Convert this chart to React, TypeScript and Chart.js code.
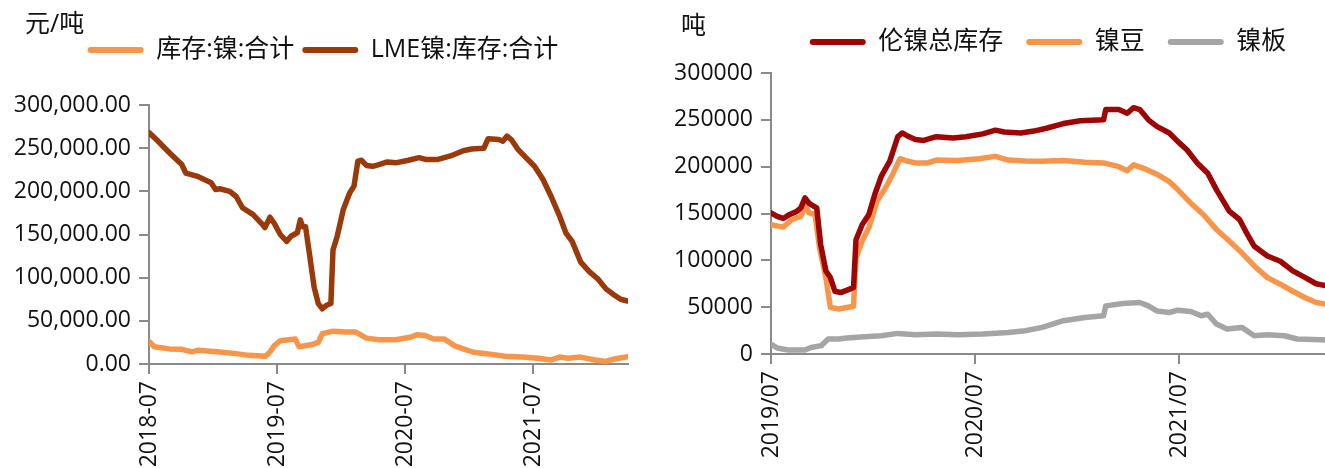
import React, { useEffect, useRef } from 'react';
import { Chart, registerables } from 'chart.js';

Chart.register(...registerables);

const FONT = "'Open Sans', 'Noto Sans CJK SC', sans-serif";
const AXIS = '#8a8a8a';
const TEXT = '#111111';

// ---------- Left chart data ----------
const leftUnit = '元/吨';
const leftTickLabels = ['2018-07', '2019-07', '2020-07', '2021-07'];
const leftRange = ['2018-07-01', '2022-03-27'];

const stockName = '库存:镍:合计';
const stockDates = ['2018-07-01', '2018-07-16', '2018-08-28', '2018-10-03', '2018-11-02', '2018-11-20', '2019-01-20', '2019-03-06', '2019-04-12', '2019-05-29', '2019-06-11', '2019-06-23', '2019-07-10', '2019-08-22', '2019-09-03', '2019-10-09', '2019-10-27', '2019-11-08', '2019-12-08', '2020-01-13', '2020-02-12', '2020-03-12', '2020-04-17', '2020-06-04', '2020-07-16', '2020-08-04', '2020-08-28', '2020-09-21', '2020-10-21', '2020-11-20', '2020-12-14', '2021-01-13', '2021-02-24', '2021-04-11', '2021-05-29', '2021-07-16', '2021-08-21', '2021-09-15', '2021-10-08', '2021-11-14', '2021-12-20', '2022-01-25', '2022-02-18', '2022-03-26'];
const stockValues = [26000, 20000, 17500, 17000, 14000, 16000, 14000, 12000, 10000, 9000, 14000, 21000, 27000, 29000, 20000, 22500, 25000, 35000, 38000, 37000, 37000, 30000, 28000, 28000, 31000, 34000, 33000, 29000, 29000, 21000, 17500, 13600, 11700, 9000, 8000, 6600, 4700, 8000, 6600, 8000, 5000, 3000, 5800, 8500];

const lmeName = 'LME镍:库存:合计';
const lmeDates = ['2018-07-01', '2018-07-22', '2018-08-28', '2018-10-03', '2018-10-15', '2018-11-20', '2018-12-26', '2019-01-08', '2019-01-20', '2019-02-18', '2019-03-06', '2019-03-24', '2019-04-24', '2019-05-17', '2019-05-27', '2019-06-11', '2019-06-23', '2019-07-10', '2019-07-28', '2019-08-10', '2019-08-28', '2019-09-06', '2019-09-13', '2019-09-21', '2019-10-03', '2019-10-15', '2019-10-27', '2019-11-08', '2019-11-20', '2019-12-02', '2019-12-08', '2019-12-20', '2020-01-07', '2020-01-25', '2020-02-07', '2020-02-18', '2020-02-28', '2020-03-12', '2020-03-30', '2020-04-17', '2020-05-11', '2020-06-04', '2020-07-10', '2020-08-10', '2020-08-28', '2020-10-03', '2020-11-08', '2020-12-14', '2021-01-07', '2021-02-12', '2021-02-24', '2021-03-24', '2021-04-05', '2021-04-17', '2021-04-29', '2021-05-17', '2021-06-10', '2021-07-04', '2021-07-28', '2021-08-21', '2021-09-15', '2021-10-02', '2021-10-20', '2021-11-14', '2021-12-08', '2022-01-01', '2022-01-25', '2022-02-18', '2022-03-06', '2022-03-26'];
const lmeValues = [268000, 260000, 245000, 231000, 221000, 217000, 210000, 202000, 203000, 200000, 194000, 181000, 173000, 163000, 158000, 170000, 163000, 150000, 142000, 148000, 152000, 167000, 159000, 159000, 124000, 89000, 70000, 64000, 68000, 70000, 132000, 148000, 179000, 198000, 206000, 235000, 236000, 230000, 229000, 231000, 234000, 233000, 236000, 239000, 237000, 237000, 241000, 247000, 249000, 250000, 261000, 260000, 258000, 264000, 260000, 249000, 239000, 229000, 214000, 194000, 171000, 152000, 142000, 118000, 107000, 99000, 87000, 80000, 75000, 73000];

// ---------- Right chart data ----------
const rightUnit = '吨';
const rightTickLabels = ['2019/07', '2020/07', '2021/07'];
const rightRange = ['2019-07-01', '2022-09-17'];

const totalName = '伦镍总库存';
const totalDates = ['2019-07-01', '2019-07-12', '2019-07-23', '2019-08-04', '2019-08-16', '2019-08-24', '2019-09-01', '2019-09-08', '2019-09-16', '2019-09-22', '2019-09-29', '2019-10-08', '2019-10-16', '2019-10-24', '2019-11-04', '2019-11-19', '2019-11-27', '2019-12-01', '2019-12-12', '2019-12-24', '2020-01-04', '2020-01-16', '2020-01-31', '2020-02-15', '2020-02-23', '2020-03-01', '2020-03-16', '2020-03-31', '2020-04-23', '2020-05-23', '2020-06-15', '2020-07-15', '2020-08-07', '2020-08-23', '2020-09-22', '2020-10-15', '2020-11-07', '2020-12-07', '2021-01-07', '2021-02-18', '2021-02-22', '2021-03-15', '2021-03-30', '2021-04-11', '2021-04-22', '2021-05-07', '2021-05-22', '2021-06-14', '2021-06-29', '2021-07-15', '2021-08-03', '2021-08-22', '2021-09-07', '2021-09-30', '2021-10-18', '2021-10-29', '2021-11-14', '2021-12-07', '2021-12-30', '2022-01-22', '2022-02-14', '2022-03-03', '2022-03-24'];
const totalValues = [150700, 147000, 144700, 149000, 152000, 156000, 166700, 161000, 158000, 156000, 117000, 88600, 81600, 67000, 65600, 69000, 71000, 122000, 138000, 149000, 170000, 190000, 206000, 232000, 236000, 233000, 229000, 228000, 232000, 230500, 232000, 235000, 239000, 237000, 236000, 238000, 241000, 246000, 249000, 250000, 261000, 261000, 257000, 263000, 261000, 250000, 243000, 236000, 227000, 218000, 204000, 193000, 175500, 152500, 143600, 131000, 115000, 104600, 99000, 88700, 81600, 75000, 72500];

const beanName = '镍豆';
const beanDates = ['2019-07-01', '2019-07-23', '2019-08-08', '2019-08-24', '2019-09-02', '2019-09-08', '2019-09-19', '2019-09-27', '2019-10-08', '2019-10-16', '2019-10-31', '2019-11-15', '2019-11-27', '2019-12-01', '2019-12-12', '2019-12-24', '2020-01-08', '2020-01-23', '2020-02-04', '2020-02-19', '2020-03-01', '2020-03-16', '2020-04-08', '2020-04-23', '2020-06-01', '2020-07-08', '2020-08-07', '2020-08-30', '2020-09-30', '2020-10-30', '2020-12-07', '2021-01-15', '2021-02-18', '2021-03-15', '2021-03-30', '2021-04-11', '2021-04-30', '2021-05-22', '2021-06-14', '2021-06-29', '2021-07-22', '2021-08-14', '2021-09-07', '2021-09-30', '2021-10-22', '2021-11-14', '2021-12-07', '2021-12-30', '2022-01-22', '2022-02-14', '2022-03-03', '2022-03-24'];
const beanValues = [138000, 135500, 143600, 147000, 159000, 150700, 149000, 113500, 81600, 49600, 48000, 49600, 51000, 102800, 120600, 134700, 163000, 177000, 189700, 208500, 206000, 204000, 204000, 207000, 206700, 208500, 211000, 207000, 206000, 205700, 206700, 204600, 204000, 200000, 195700, 202000, 198000, 192000, 184000, 175500, 161000, 149000, 133000, 120600, 108000, 94000, 81600, 74500, 67000, 60000, 55000, 53000];

const plateName = '镍板';
const plateDates = ['2019-07-01', '2019-07-12', '2019-08-01', '2019-09-01', '2019-09-12', '2019-09-30', '2019-10-12', '2019-10-31', '2019-11-15', '2019-12-16', '2020-01-16', '2020-02-15', '2020-03-16', '2020-04-23', '2020-06-01', '2020-07-15', '2020-08-30', '2020-09-30', '2020-10-30', '2020-12-07', '2021-01-15', '2021-02-18', '2021-02-22', '2021-03-22', '2021-04-22', '2021-05-07', '2021-05-22', '2021-06-14', '2021-06-29', '2021-07-22', '2021-08-10', '2021-08-22', '2021-09-07', '2021-09-26', '2021-10-22', '2021-11-14', '2021-12-07', '2022-01-07', '2022-01-30', '2022-03-24'];
const plateValues = [10600, 6400, 4300, 4300, 7000, 8900, 16000, 16000, 17000, 18400, 19500, 22000, 20600, 21300, 20600, 21300, 23000, 24800, 28400, 35500, 39000, 40800, 51400, 53900, 55000, 51400, 46000, 44300, 46800, 45400, 40800, 42500, 32000, 26600, 28400, 19500, 20600, 19500, 16000, 15000];

// ---------- helpers ----------
function monthIndex(s: string): number {
  const p = s.split(/[-/]/).map(Number);
  const y = p[0], m = p[1], d = p[2] || 1;
  return (y - 2000) * 12 + (m - 1) + (d - 1) / 30.44;
}

function toPoints(dates: string[], values: number[]) {
  return dates.map((d, i) => ({ x: monthIndex(d), y: values[i] }));
}

function lineDataset(label: string, dates: string[], values: number[], color: string) {
  return {
    label,
    data: toPoints(dates, values),
    borderColor: color,
    backgroundColor: color,
    borderWidth: 5.5,
    pointRadius: 0,
    tension: 0,
    borderJoinStyle: 'round',
    borderCapStyle: 'round',
  };
}

const unitPlugin = {
  id: 'unitLabel',
  afterDraw(chart: any, _args: any, o: any) {
    const ctx = chart.ctx;
    ctx.save();
    ctx.font = `25px ${FONT}`;
    ctx.fillStyle = TEXT;
    ctx.textAlign = 'left';
    ctx.textBaseline = 'middle';
    ctx.fillText(o.text, o.x, o.y);
    ctx.restore();
  },
};

const legendGapPlugin = {
  id: 'legendGap',
  beforeLayout(chart: any, _args: any, o: any) {
    const lg = chart.legend;
    if (lg && !lg.__gapPatched) {
      const orig = lg.fit;
      lg.fit = function () {
        orig.call(this);
        this.height += o.extra;
      };
      lg.__gapPatched = true;
    }
  },
};

interface Cfg {
  datasets: any[];
  unit: string;
  unitX: number;
  unitY: number;
  tickLabels: string[];
  range: string[];
  yFormat: (v: number) => string;
  yWidth: number;
  xHeight: number;
  rightGap: number;
  padTop: number;
  legendPad: number;
  legendExtra: number;
}

function axisCommon() {
  return {
    grid: { display: true, drawOnChartArea: false, drawTicks: true, tickLength: 10, color: AXIS, lineWidth: 2 },
    border: { display: true, color: AXIS, width: 2 },
  };
}

function buildConfig(c: Cfg): any {
  const tickVals = c.tickLabels.map(monthIndex);
  return {
    type: 'line',
    data: { datasets: c.datasets },
    plugins: [unitPlugin, legendGapPlugin],
    options: {
      responsive: false,
      animation: false,
      events: [],
      layout: { padding: { top: c.padTop, left: 0, right: 0, bottom: 0 } },
      plugins: {
        tooltip: { enabled: false },
        unitLabel: { text: c.unit, x: c.unitX, y: c.unitY },
        legendGap: { extra: c.legendExtra },
        legend: {
          display: true,
          position: 'top',
          align: 'center',
          labels: {
            boxWidth: 56,
            boxHeight: 6,
            useBorderRadius: true,
            borderRadius: 3,
            padding: c.legendPad,
            color: TEXT,
            font: { family: FONT, size: 25 },
            generateLabels: (chart: any) =>
              (Chart.defaults.plugins.legend.labels.generateLabels as any)(chart).map((l: any) => ({
                ...l,
                lineWidth: 0,
                fillStyle: l.strokeStyle,
              })),
          },
        },
      },
      scales: {
        x: {
          type: 'linear',
          min: monthIndex(c.range[0]),
          max: monthIndex(c.range[1]),
          afterBuildTicks: (s: any) => {
            s.ticks = tickVals.map((v) => ({ value: v }));
          },
          afterFit: (s: any) => {
            s.height = c.xHeight;
          },
          ticks: {
            autoSkip: false,
            minRotation: 90,
            maxRotation: 90,
            padding: 7,
            color: TEXT,
            font: { family: FONT, size: 23 },
            callback: (v: number) => {
              const i = tickVals.findIndex((t) => Math.abs(t - v) < 0.01);
              return i >= 0 ? c.tickLabels[i] : '';
            },
          },
          ...axisCommon(),
        },
        y: {
          type: 'linear',
          min: 0,
          max: 300000,
          afterFit: (s: any) => {
            s.width = c.yWidth;
          },
          ticks: {
            stepSize: 50000,
            padding: 8,
            color: TEXT,
            font: { family: FONT, size: 23 },
            callback: (v: number) => c.yFormat(v),
          },
          ...axisCommon(),
        },
        gap: {
          type: 'linear',
          position: 'right',
          display: true,
          ticks: { display: false },
          grid: { display: false },
          border: { display: false },
          afterFit: (s: any) => {
            s.width = c.rightGap;
          },
        },
      },
    },
  };
}

const LEFT_W = 646;
const RIGHT_W = 776;
const H = 468;

export default function App() {
  const leftRef = useRef<HTMLCanvasElement>(null);
  const rightRef = useRef<HTMLCanvasElement>(null);

  useEffect(() => {
    const left = new Chart(
      leftRef.current as HTMLCanvasElement,
      buildConfig({
        datasets: [
          lineDataset(stockName, stockDates, stockValues, '#F7964B'),
          lineDataset(lmeName, lmeDates, lmeValues, '#9A3A0B'),
        ],
        unit: leftUnit,
        unitX: 25,
        unitY: 25,
        tickLabels: leftTickLabels,
        range: leftRange,
        yFormat: (v) => v.toLocaleString('en-US', { minimumFractionDigits: 2, maximumFractionDigits: 2 }),
        yWidth: 149,
        xHeight: H - 364,
        rightGap: LEFT_W - 628,
        padTop: 29.5,
        legendPad: 8,
        legendExtra: 32.5,
      })
    );
    const right = new Chart(
      rightRef.current as HTMLCanvasElement,
      buildConfig({
        datasets: [
          lineDataset(totalName, totalDates, totalValues, '#9E0606'),
          lineDataset(beanName, beanDates, beanValues, '#F7964B'),
          lineDataset(plateName, plateDates, plateValues, '#A5A5A5'),
        ],
        unit: rightUnit,
        unitX: 21,
        unitY: 27,
        tickLabels: rightTickLabels,
        range: rightRange,
        yFormat: (v) => String(v),
        yWidth: 111,
        xHeight: H - 354,
        rightGap: 10,
        padTop: 6.5,
        legendPad: 23,
        legendExtra: 8.5,
      })
    );
    return () => {
      left.destroy();
      right.destroy();
    };
  }, []);

  return (
    <div style={{ position: 'absolute', left: 0, top: 0, width: 1325, height: H, overflow: 'hidden', background: '#ffffff' }}>
      <div style={{ position: 'absolute', left: 0, top: 0, width: LEFT_W, height: H }}>
        <canvas ref={leftRef} width={LEFT_W} height={H} style={{ width: LEFT_W, height: H, display: 'block' }} />
      </div>
      <div style={{ position: 'absolute', left: 660, top: 0, width: RIGHT_W, height: H }}>
        <canvas ref={rightRef} width={RIGHT_W} height={H} style={{ width: RIGHT_W, height: H, display: 'block' }} />
      </div>
    </div>
  );
}
